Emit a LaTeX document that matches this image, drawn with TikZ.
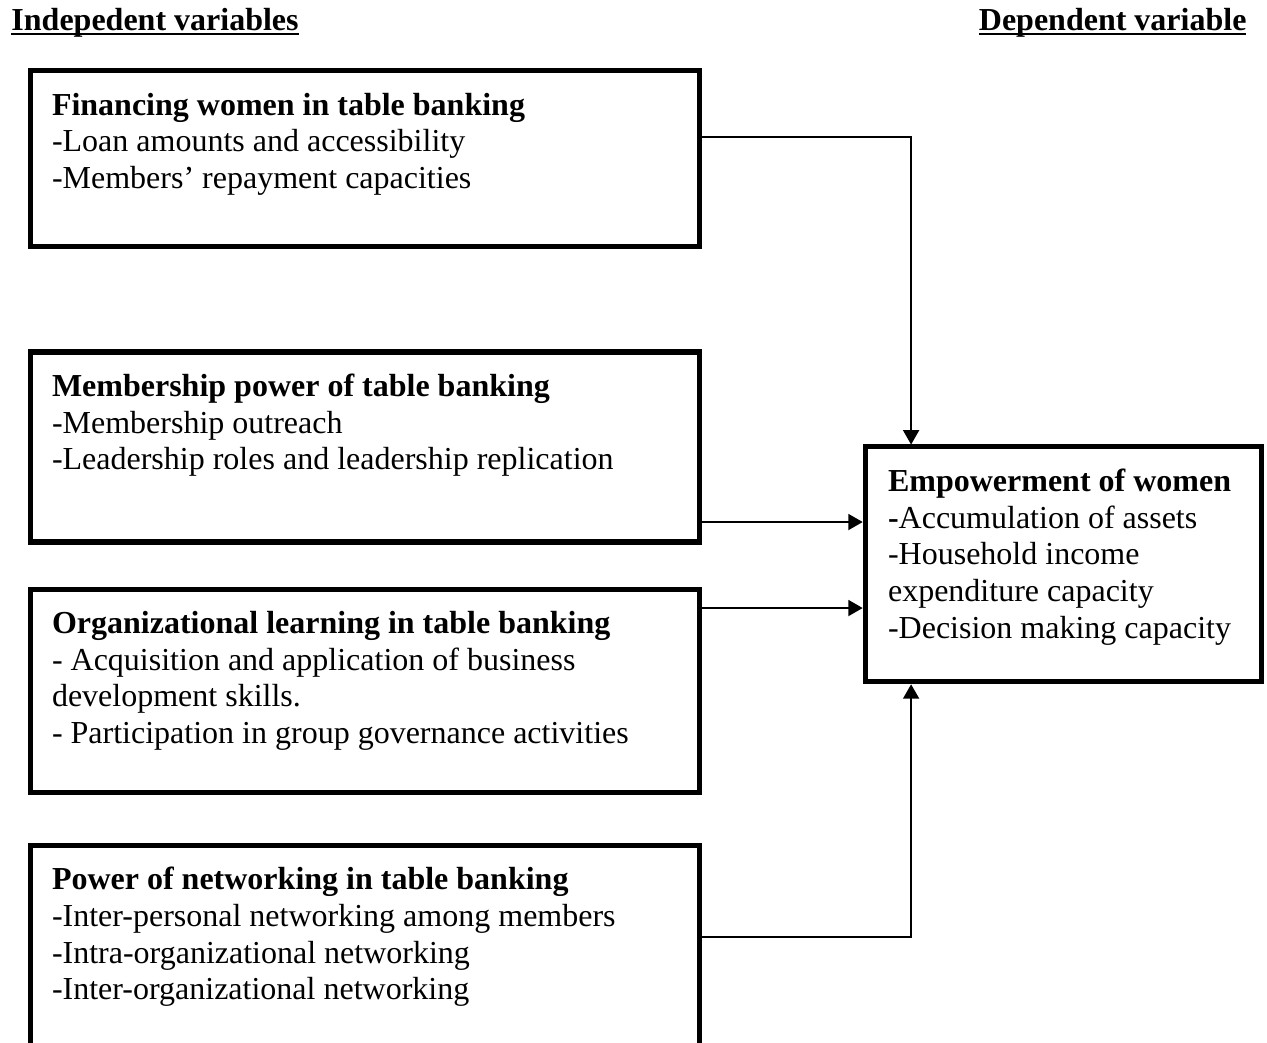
\documentclass[tikz,border=0pt]{standalone}
\usepackage{fontspec}
\setmainfont{Liberation Serif}
\usetikzlibrary{arrows.meta,calc}

\begin{document}
\begin{tikzpicture}[
  every node/.style={font=\fontsize{12pt}{13.76pt}\selectfont},
  varbox/.style={draw, line width=1.9pt, outer sep=0pt, anchor=north west, inner xsep=7.9pt, inner ysep=8.25pt},
  link/.style={-{Triangle[width=6pt,length=5.4pt]}, line width=0.65pt, shorten >=0.9pt},
  ]
  \newcommand{\boxtext}[3]{\parbox[t][#2][t]{#1}{\raggedright #3}}
  \newcommand{\heading}[1]{\setbox0\hbox{\textbf{#1}}\rlap{\rule[-1.9pt]{\wd0}{0.9pt}}\box0}

  \clip (0,0) rectangle (475.1pt,-390.75pt);

  \node[anchor=base west, inner sep=0] (indep) at (4.1pt,-11.25pt) {\heading{Indepedent variables}};
  \node[anchor=base east, inner sep=0] (dep) at (467.6pt,-11.25pt) {\heading{Dependent variable}};

  \node[varbox] (fin) at (11.6pt,-26.6pt) {\boxtext{235pt}{49.5pt}{%
      \textbf{Financing women in table banking}\\
      -Loan amounts and accessibility\\
      -Members' repayment capacities}};
  \node[varbox] (memb) at (11.6pt,-132pt) {\boxtext{235pt}{54.75pt}{%
      \textbf{Membership power of table banking}\\
      -Membership outreach\\
      -Leadership roles and leadership replication}};
  \node[varbox] (learn) at (11.6pt,-220.9pt) {\boxtext{235pt}{59.6pt}{%
      \textbf{Organizational learning in table banking}\\
      - Acquisition and application of business\\
      development skills.\\
      - Participation in group governance activities}};
  \node[varbox] (netw) at (11.6pt,-316.9pt) {\boxtext{235pt}{81pt}{%
      \textbf{Power of networking in table banking}\\
      -Inter-personal networking among members\\
      -Intra-organizational networking\\
      -Inter-organizational networking}};

  \node[varbox, inner xsep=8.6pt] (emp) at (324.4pt,-167.6pt) {\boxtext{131.6pt}{71.6pt}{%
      \textbf{Empowerment of women}\\
      \textbf{-}Accumulation of assets\\
      -Household income\\
      expenditure capacity\\
      -Decision making capacity}};

  \draw[link] ($(fin.north east)+(0,-24.75pt)$) -| ($(emp.north west)+(17.25pt,0)$);
  \draw[link] ($(memb.north east)+(0,-63.75pt)$) coordinate (m2) -- (m2 -| emp.west);
  \draw[link] ($(learn.north east)+(0,-7.1pt)$) coordinate (l2) -- (l2 -| emp.west);
  \draw[link] ($(netw.north east)+(0,-34.5pt)$) -| ($(emp.south west)+(17.25pt,0)$);
\end{tikzpicture}
\end{document}
